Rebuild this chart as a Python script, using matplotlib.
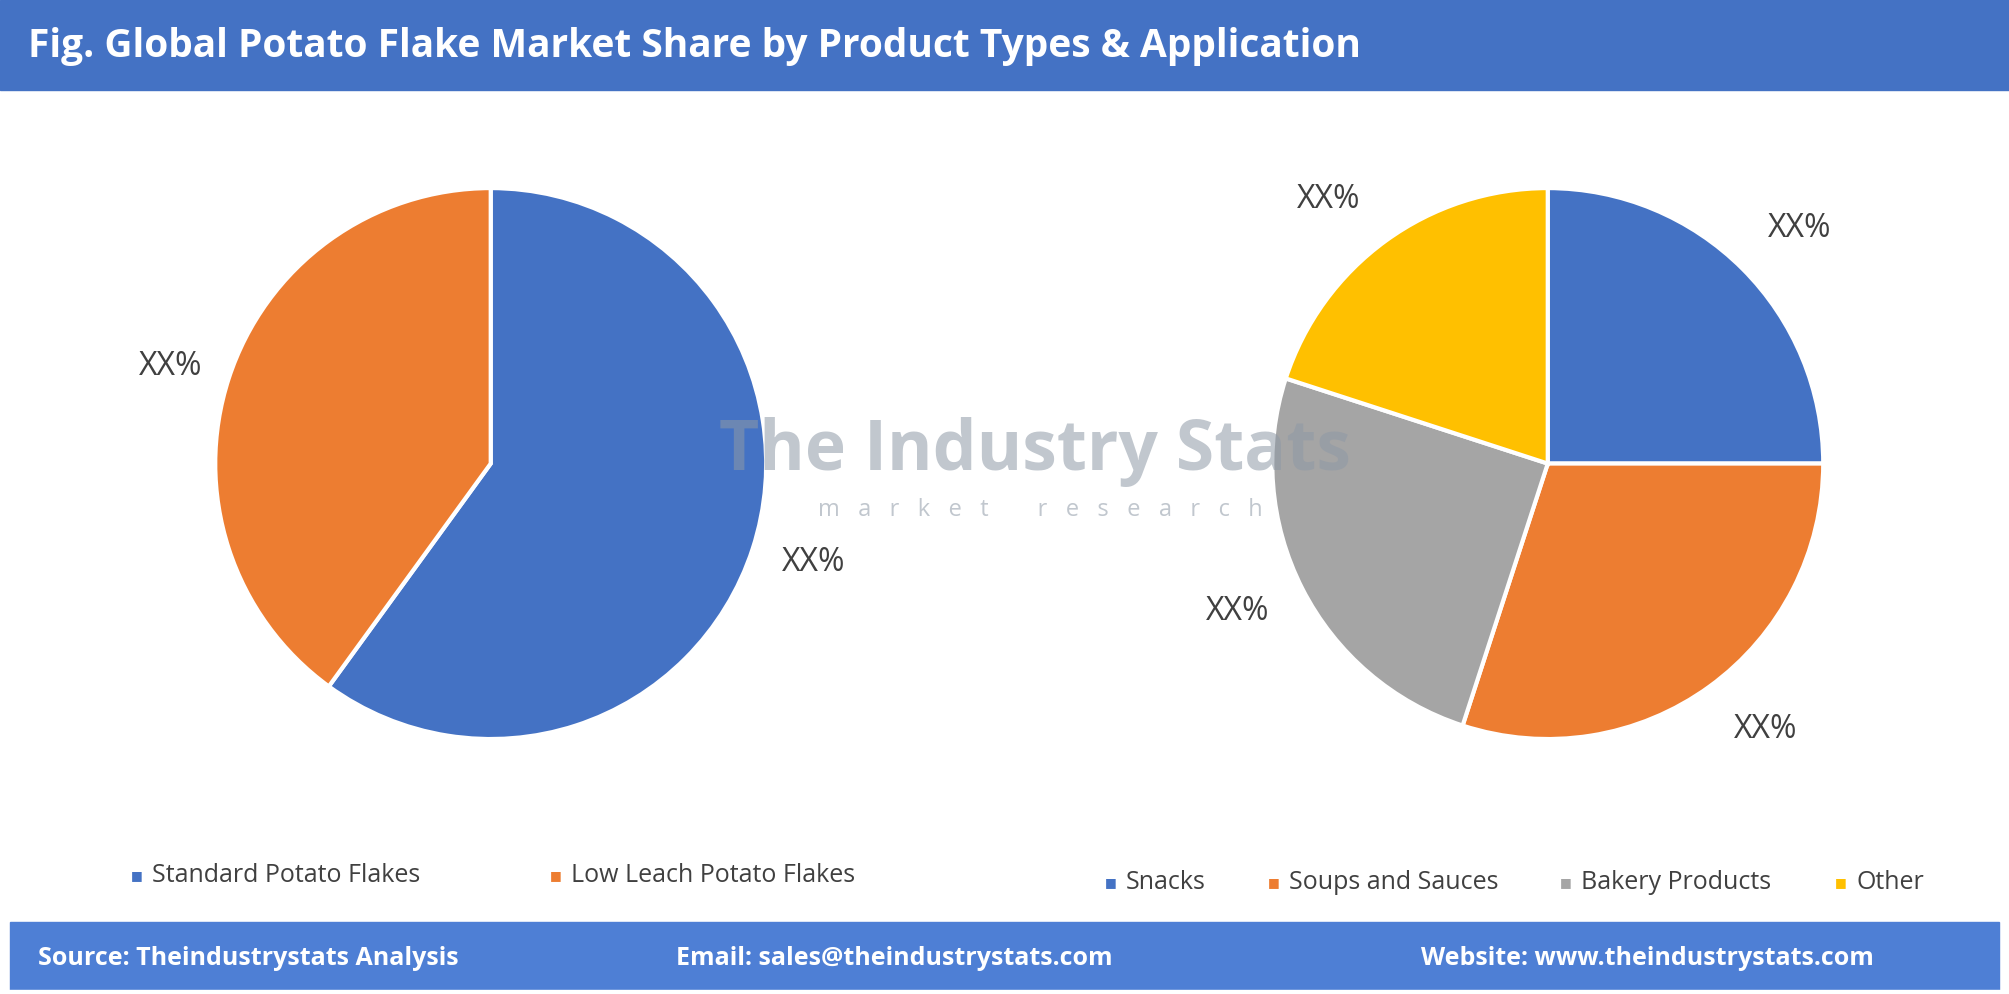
import matplotlib.pyplot as plt
from matplotlib.patches import Rectangle

W, H = 2009, 994
S = W / 1568  # reference drawn at 1568 wide

types = ["Standard Potato Flakes", "Low Leach Potato Flakes"]
type_share = [60, 40]
type_colors = ["#4472C4", "#ED7D31"]

apps = ["Snacks", "Soups and Sauces", "Bakery Products", "Other"]
app_share = [25, 30, 25, 20]
app_colors = ["#4472C4", "#ED7D31", "#A5A5A5", "#FFC000"]

fig = plt.figure(figsize=(W / 100, H / 100), dpi=100)
fig.patch.set_facecolor("white")
font = "Open Sans"

def fx(x):
    return x / 1568
def fy(y):
    return 1 - y / 774

# header / footer
fig.add_artist(Rectangle((0, fy(70)), 1, 70 / 774, transform=fig.transFigure, color="#4472C4"))
fig.text(fx(22), fy(36), "Fig. Global Potato Flake Market Share by Product Types & Application",
         color="white", fontsize=28, fontweight="bold", family=font, va="center")
fig.add_artist(Rectangle((fx(8), 0), fx(1552), 56 / 774, transform=fig.transFigure, color="#4E7FD5"))
fig.add_artist(Rectangle((0, 0), 1, 0.004, transform=fig.transFigure, color="white"))
for x, t, ha in [(30, "Source: Theindustrystats Analysis", "left"),
                 (698, "Email: sales@theindustrystats.com", "center"),
                 (1286, "Website: www.theindustrystats.com", "center")]:
    fig.text(fx(x), fy(746), t, color="white", fontsize=18, fontweight="bold", family=font,
             va="center", ha=ha)

R = 215 * S
def pie_ax(cx, cy, vals, cols):
    side = 600
    ax = fig.add_axes([cx * S / W - side / 2 / W, (774 - cy) * S / H - side / 2 / H, side / W, side / H])
    lim = side / 2 / R
    ax.pie(vals, colors=cols, startangle=90, counterclock=False,
           wedgeprops=dict(edgecolor="white", linewidth=3))
    ax.set_xlim(-lim, lim)
    ax.set_ylim(-lim, lim)
    ax.set_aspect("equal")
    ax.axis("off")

pie_ax(383, 360, type_share, type_colors)
pie_ax(1208, 360, app_share, app_colors)

# watermark
fig.text(fx(808), fy(352), "The Industry Stats", color="#8E99A6", alpha=0.55, fontsize=50,
         fontweight="bold", family=font, ha="center", va="center")
fig.text(fx(812), fy(397), "m   a   r   k   e   t        r   e   s   e   a   r   c   h", color="#8E99A6",
         alpha=0.55, fontsize=17, family=font, ha="center", va="center")

for x, y in [(133, 285), (635, 438), (1037, 155), (1405, 178), (966, 476), (1378, 568)]:
    fig.text(fx(x), fy(y), "XX%", fontsize=23, color="#404040", family=font, ha="center", va="center")

# legends
def legend(items, cols, xs, y):
    for t, c, x in zip(items, cols, xs):
        fig.text(fx(x), fy(y), "■", color=c, fontsize=9, ha="center", va="center")
        fig.text(fx(x + 12), fy(y), t, fontsize=18, color="#404040", family=font, va="center")

legend(types, type_colors, [107, 434], 682)
legend(apps, app_colors, [867, 994, 1222, 1437], 687)

fig.savefig("out.png", dpi=100)
